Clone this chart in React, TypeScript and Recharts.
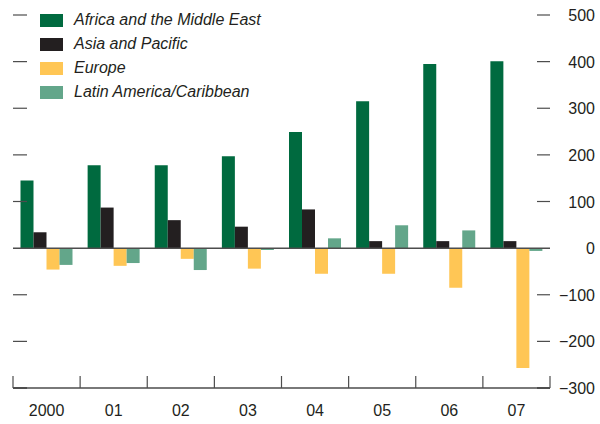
import { BarChart, Bar, XAxis, YAxis, ReferenceLine } from 'recharts';

const years = ['2000', '01', '02', '03', '04', '05', '06', '07'];
const africaMiddleEast = [145, 178, 178, 197, 249, 315, 395, 401];
const asiaPacific = [34, 87, 60, 46, 83, 15, 15, 15];
const europe = [-46, -38, -23, -44, -55, -55, -85, -257];
const latinAmerica = [-36, -32, -47, -4, 21, 49, 38, -6];
const yTicks = [-300, -200, -100, 0, 100, 200, 300, 400, 500];

const series = [
    { key: 'africa', name: 'Africa and the Middle East', color: '#006A3F' },
    { key: 'asia', name: 'Asia and Pacific', color: '#231F20' },
    { key: 'europe', name: 'Europe', color: '#FFC655' },
    { key: 'latam', name: 'Latin America/Caribbean', color: '#63A68A' },
];

const data = years.map((year, i) => ({
    year,
    africa: africaMiddleEast[i],
    asia: asiaPacific[i],
    europe: europe[i],
    latam: latinAmerica[i],
}));

const W = 600;
const H = 424;
const LEFT = 13;
const RIGHT_W = 50;
const PLOT_W = W - LEFT - RIGHT_W;
const BAND = PLOT_W / years.length;
const INK = '#231F20';
const AXIS = '#4d4d4d';

function fmt(v: number) {
    return v < 0 ? `\u2212${Math.abs(v)}` : `${v}`;
}

// right-hand labels plus the short dashes on both sides of the plot
function YTick({ x, y, payload }: any) {
    const sw = payload.value === -300 ? 2 : 1.2;
    return (
        <g>
            {payload.value !== 0 && (
                <>
                    <line x1={x - 13} x2={x} y1={y} y2={y} stroke={AXIS} strokeWidth={sw} />
                    <line x1={x - PLOT_W} x2={x - PLOT_W + 14} y1={y} y2={y} stroke={AXIS} strokeWidth={sw} />
                </>
            )}
            <text x={x + 45} y={y} dy={6} textAnchor="end" fontSize={16} fill={INK}>
                {fmt(payload.value)}
            </text>
        </g>
    );
}

function XTick({ x, y, payload, index }: any) {
    const half = BAND / 2;
    return (
        <g>
            <line x1={x - half} x2={x - half} y1={y} y2={y - 12} stroke={AXIS} strokeWidth={1.2} />
            {index === years.length - 1 && (
                <line x1={x + half} x2={x + half} y1={y} y2={y - 12} stroke={AXIS} strokeWidth={1.2} />
            )}
            <text x={x} y={y + 28} textAnchor="middle" fontSize={16} fill={INK}>
                {payload.value}
            </text>
        </g>
    );
}

function LegendList() {
    return (
        <div style={{ position: 'absolute', left: 40, top: 8 }}>
            {series.map((s) => (
                <div key={s.key} style={{ display: 'flex', alignItems: 'center', height: 24 }}>
                    <span style={{ width: 23, height: 13, background: s.color, marginRight: 11 }} />
                    <span style={{ fontStyle: 'italic', fontSize: 16, color: INK }}>{s.name}</span>
                </div>
            ))}
        </div>
    );
}

export default function App() {
    return (
        <div style={{ position: 'absolute', left: 0, top: 0, width: W, height: H, fontFamily: '"Liberation Sans", Arial, sans-serif' }}>
            <BarChart
                width={W}
                height={H}
                data={data}
                margin={{ top: 15, right: 0, bottom: 0, left: LEFT }}
                barCategoryGap={7.5}
                barGap={0}
            >
                <XAxis
                    dataKey="year"
                    height={36}
                    axisLine={{ stroke: AXIS, strokeWidth: 1.5 }}
                    tickLine={false}
                    tickSize={0}
                    tickMargin={0}
                    tick={<XTick />}
                    interval={0}
                />
                <YAxis
                    orientation="right"
                    width={RIGHT_W}
                    domain={[-300, 500]}
                    ticks={yTicks}
                    axisLine={false}
                    tickLine={false}
                    tickSize={0}
                    tickMargin={0}
                    tick={<YTick />}
                />
                {series.map((s) => (
                    <Bar key={s.key} dataKey={s.key} name={s.name} fill={s.color} isAnimationActive={false} />
                ))}
                <ReferenceLine y={0} stroke={AXIS} strokeWidth={1.5} />
            </BarChart>
            <LegendList />
        </div>
    );
}
